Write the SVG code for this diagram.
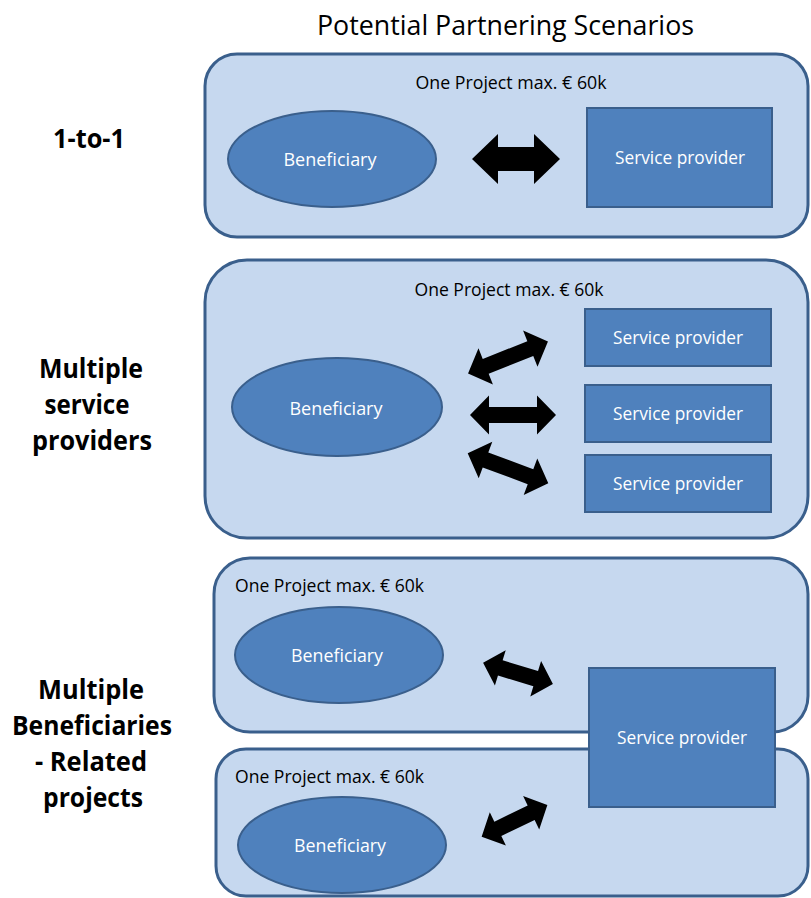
<svg xmlns="http://www.w3.org/2000/svg" width="811" height="898" viewBox="0 0 811 898">
<style>
  text { font-family: "Open Sans", "Liberation Sans", sans-serif; }
  .frame { fill: #c6d8ef; stroke: #3a5f8c; stroke-width: 3; }
  .node { fill: #4f81bd; stroke: #3a5f8c; stroke-width: 2; }
  .wt { fill: #ffffff; font-size: 18px; text-anchor: middle; }
  .cap { fill: #000000; font-size: 18px; }
  .lbl { fill: #000000; font-size: 26px; font-weight: bold; text-anchor: middle; }
  .title { fill: #000000; font-size: 27px; text-anchor: middle; }
  .arrow { fill: #000000; }
</style>
<defs>
  <path id="arrowL" d="M -44 0 L -18 -25 L -18 -12 L 18 -12 L 18 -25 L 44 0 L 18 25 L 18 12 L -18 12 L -18 25 Z"/>
  <path id="arrowM" d="M -43 0 L -24 -19.5 L -24 -8 L 24 -8 L 24 -19.5 L 43 0 L 24 19.5 L 24 8 L -24 8 L -24 19.5 Z"/>
  <path id="arrowS" d="M -36.5 0 L -18.5 -18.5 L -18.5 -8 L 18.5 -8 L 18.5 -18.5 L 36.5 0 L 18.5 18.5 L 18.5 8 L -18.5 8 L -18.5 18.5 Z"/>
</defs>
<rect width="811" height="898" fill="#ffffff"/>

<g id="title">
  <text class="title" x="505.5" y="35" textLength="377" lengthAdjust="spacingAndGlyphs">Potential Partnering Scenarios</text>
</g>

<g id="labels">
  <text class="lbl" x="89" y="148" textLength="72" lengthAdjust="spacingAndGlyphs">1-to-1</text>
  <text class="lbl" x="91" y="378" textLength="104" lengthAdjust="spacingAndGlyphs">Multiple</text>
  <text class="lbl" x="87" y="414" textLength="85" lengthAdjust="spacingAndGlyphs">service</text>
  <text class="lbl" x="92" y="450" textLength="120" lengthAdjust="spacingAndGlyphs">providers</text>
  <text class="lbl" x="91" y="699" textLength="106" lengthAdjust="spacingAndGlyphs">Multiple</text>
  <text class="lbl" x="92" y="735" textLength="160" lengthAdjust="spacingAndGlyphs">Beneficiaries</text>
  <text class="lbl" x="91" y="771" textLength="112" lengthAdjust="spacingAndGlyphs">- Related</text>
  <text class="lbl" x="93" y="807" textLength="100" lengthAdjust="spacingAndGlyphs">projects</text>
</g>

<!-- Scenario 1 -->
<g id="project1">
  <rect class="frame" x="205" y="54" width="603" height="183" rx="32" ry="32"/>
  <text class="cap" x="511" y="89" text-anchor="middle" textLength="191" lengthAdjust="spacingAndGlyphs">One Project max. € 60k</text>
</g>
<g id="beneficiary1">
  <ellipse class="node" cx="332" cy="159" rx="104" ry="48"/>
  <text class="wt" x="330" y="166" textLength="93" lengthAdjust="spacingAndGlyphs">Beneficiary</text>
</g>
<g id="provider1">
  <rect class="node" x="587" y="108" width="185" height="99"/>
  <text class="wt" x="680" y="164" textLength="130" lengthAdjust="spacingAndGlyphs">Service provider</text>
</g>

<!-- Scenario 2 -->
<g id="project2">
  <rect class="frame" x="205" y="260" width="603" height="278" rx="42" ry="42"/>
  <text class="cap" x="509" y="296" text-anchor="middle" textLength="189" lengthAdjust="spacingAndGlyphs">One Project max. € 60k</text>
</g>
<g id="beneficiary2">
  <ellipse class="node" cx="337" cy="407" rx="105" ry="49"/>
  <text class="wt" x="336" y="415" textLength="93" lengthAdjust="spacingAndGlyphs">Beneficiary</text>
</g>
<g id="provider2a">
  <rect class="node" x="585" y="309" width="186" height="57"/>
  <text class="wt" x="678" y="344" textLength="130" lengthAdjust="spacingAndGlyphs">Service provider</text>
</g>
<g id="provider2b">
  <rect class="node" x="585" y="385" width="186" height="57"/>
  <text class="wt" x="678" y="420" textLength="130" lengthAdjust="spacingAndGlyphs">Service provider</text>
</g>
<g id="provider2c">
  <rect class="node" x="585" y="455" width="186" height="57"/>
  <text class="wt" x="678" y="490" textLength="130" lengthAdjust="spacingAndGlyphs">Service provider</text>
</g>

<!-- Scenario 3 -->
<g id="project3a">
  <rect class="frame" x="214" y="558" width="594" height="174" rx="36" ry="36"/>
  <text class="cap" x="235" y="592" textLength="189" lengthAdjust="spacingAndGlyphs">One Project max. € 60k</text>
</g>
<g id="project3b">
  <rect class="frame" x="216" y="749" width="592" height="147" rx="30" ry="30"/>
  <text class="cap" x="235" y="783" textLength="189" lengthAdjust="spacingAndGlyphs">One Project max. € 60k</text>
</g>
<g id="beneficiary3a">
  <ellipse class="node" cx="339" cy="655" rx="104" ry="48"/>
  <text class="wt" x="337" y="662" textLength="92" lengthAdjust="spacingAndGlyphs">Beneficiary</text>
</g>
<g id="beneficiary3b">
  <ellipse class="node" cx="342" cy="845" rx="104" ry="48"/>
  <text class="wt" x="340" y="852" textLength="92" lengthAdjust="spacingAndGlyphs">Beneficiary</text>
</g>
<g id="provider3">
  <rect class="node" x="589" y="668" width="186" height="139"/>
  <text class="wt" x="682" y="744" textLength="130" lengthAdjust="spacingAndGlyphs">Service provider</text>
</g>

<g id="connectors" class="arrow">
  <use href="#arrowL" transform="translate(516 159)"/>
  <use href="#arrowM" transform="translate(508 357.5) rotate(-21.7)"/>
  <use href="#arrowM" transform="translate(513 415)"/>
  <use href="#arrowM" transform="translate(508 468.3) rotate(20.4)"/>
  <use href="#arrowS" transform="translate(518 673.3) rotate(17)"/>
  <use href="#arrowS" transform="translate(514.5 820.8) rotate(-25.8)"/>
</g>
</svg>
